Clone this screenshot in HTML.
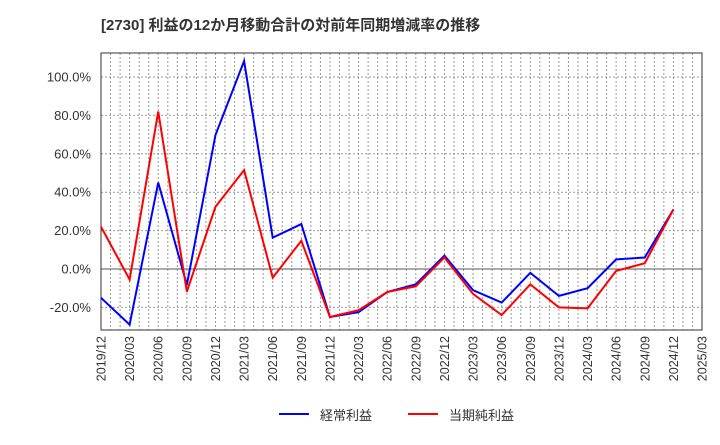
<!DOCTYPE html>
<html><head><meta charset="utf-8"><style>
body{margin:0;background:#fff;}
svg text{font-family:"Liberation Sans","Noto Sans CJK JP",sans-serif;}
</style></head><body>
<svg id="c" width="720" height="440" xmlns="http://www.w3.org/2000/svg">
<text x="101" y="30" font-size="15" font-weight="bold" fill="#333">[2730]  利益の12か月移動合計の対前年同期増減率の推移</text>
<g id="grid"></g><g id="axes"></g><g id="series"></g>
<g>
<line x1="279" y1="414" x2="309" y2="414" stroke="#0000ff" stroke-width="2"/>
<text x="320" y="420" font-size="13" fill="#333">経常利益</text>
<line x1="408" y1="414" x2="438" y2="414" stroke="#ff0000" stroke-width="2"/>
<text x="449" y="420" font-size="13" fill="#333">当期純利益</text>
</g>
</svg>
<script>
const categories=["2019/12","2020/03","2020/06","2020/09","2020/12","2021/03","2021/06","2021/09","2021/12","2022/03","2022/06","2022/09","2022/12","2023/03","2023/06","2023/09","2023/12","2024/03","2024/06","2024/09","2024/12","2025/03"];
const keijo=[-15,-29,45,-8.3,69.8,108.3,16.3,23.4,-25,-22.5,-12,-8,7,-11,-17.5,-2,-14,-10,5,6,31];
const junri=[22,-5.5,82,-11.8,32.4,51.5,-4.5,14.7,-25,-21.5,-12,-9,6,-13,-24,-8,-20,-20.5,-1,3,31];
const yTicks=[-20,0,20,40,60,80,100];
const L=101,R=702,T=53,B=330;
const x=i=>L+(R-L)*i/(categories.length-1);
const y=v=>269-v*1.92;
const NS="http://www.w3.org/2000/svg";
function mk(p,t,a){const e=document.createElementNS(NS,t);for(const k in a)e.setAttribute(k,a[k]);document.getElementById(p).appendChild(e);return e;}
for(let m=1;m<(categories.length-1)*3;m++){
 const xx=L+(R-L)*m/((categories.length-1)*3);
 const g=mk('grid','line',{x1:xx,x2:xx,y1:T,y2:B,stroke:'#999','stroke-dasharray':'2,2'});
 
 
}
yTicks.forEach(v=>{
 const g=mk('grid','line',{x1:L,x2:R,y1:y(v),y2:y(v),stroke:v===0?'#555':'#999','stroke-dasharray':v===0?'':'2,2'});
 
 
 const t=mk('axes','text',{x:L-10,y:y(v)+4.5,'font-size':13,'text-anchor':'end',fill:'#333'});
 t.textContent=v.toFixed(1)+'%';
 
 
});
const fr=mk('axes','rect',{x:L,y:T,width:R-L,height:B-T,fill:'none',stroke:'#333'});


categories.forEach((c,i)=>{
 const t=mk('axes','text',{x:0,y:0,'font-size':12.5,'text-anchor':'end',fill:'#333',transform:`translate(${x(i)+4.5},${B+6}) rotate(-90)`});
 t.textContent=c;
 
 
});
[[keijo,'#0000ff','series-keijo'],[junri,'#ff0000','series-junri']].forEach(([d,col,n])=>{
 const p=mk('series','polyline',{points:d.map((v,i)=>x(i)+','+y(v)).join(' '),fill:'none',stroke:col,'stroke-width':2});
 
 
});
</script>
</body></html>
